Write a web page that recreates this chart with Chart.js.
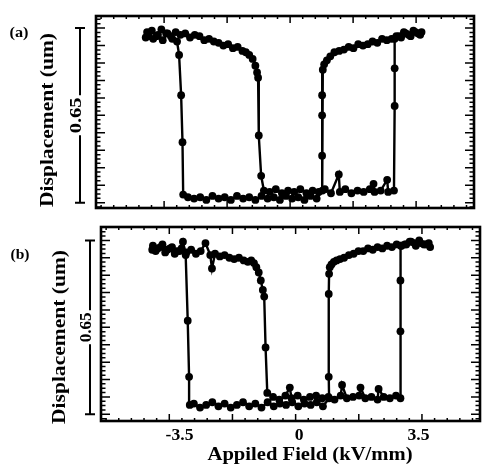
<!DOCTYPE html>
<html lang="en">
<head>
<meta charset="UTF-8" />
<title>Displacement vs Applied Field</title>
<script src="https://cdn.jsdelivr.net/npm/chart.js"></script>
<style>
  body { margin: 0; background: #fff; }
  #wrap { position: relative; width: 484px; height: 469px; }
  canvas { position: absolute; left: 0; top: 0; }
</style>
</head>
<body>
<div id="wrap">
  <canvas id="chartA" width="484" height="469"></canvas>
  <canvas id="chartB" width="484" height="469"></canvas>
</div>
<script>
// ---- data (field in kV/mm, displacement in um) ----
const fieldADown = [3.72, 3.58, 3.44, 3.3, 3.16, 3.02, 2.88, 2.74, 2.6, 2.46, 2.32, 2.18, 2.04, 1.9, 1.76, 1.62, 1.48, 1.34, 1.2, 1.08, 0.98, 0.9, 0.86, 0.84, 0.84, 0.84, 0.85,
  0.68, 0.5, 0.32, 0.14, -0.04, -0.22, -0.4, -0.58, -0.76, -0.94, -1.12, -1.3, -1.48, -1.66, -1.84, -2.02, -2.2, -2.38, -2.56, -2.74, -2.92, -3.1, -3.24,
  -3.26, -3.3, -3.36, -3.42, -3.56, -3.7, -3.84, -3.98, -4.12, -4.26, -4.34];
const dispADown = [1.25, 1.27, 1.24, 1.26, 1.23, 1.24, 1.22, 1.21, 1.22, 1.19, 1.2, 1.18, 1.17, 1.18, 1.15, 1.16, 1.14, 1.13, 1.12, 1.09, 1.06, 1.03, 0.99, 0.8, 0.65, 0.35, 0.09,
  0.03, 0.05, 0.02, 0.04, 0.03, 0.05, 0.02, 0.04, 0.03, 0.05, 0.02, 0.04, 0.03, 0.05, 0.02, 0.04, 0.03, 0.05, 0.02, 0.04, 0.03, 0.04, 0.06,
  0.45, 0.8, 1.1, 1.2, 1.22, 1.26, 1.21, 1.25, 1.22, 1.24, 1.23];
const fieldAUp = [-4.3, -4.16, -4.02, -3.88, -3.74, -3.6, -3.46, -3.32, -3.18, -3.04, -2.9, -2.76, -2.62, -2.48, -2.34, -2.2, -2.06, -1.92, -1.78, -1.64, -1.5, -1.4, -1.3, -1.2, -1.12, -1.07, -1.04, -1.02, -0.95, -0.87,
  -0.7, -0.52, -0.34, -0.16, 0.02, 0.2, 0.38, 0.56, 0.74, 0.92, 1.1, 1.33, 1.36, 1.52, 1.7, 1.88, 2.06, 2.24, 2.35, 2.38, 2.56, 2.75, 2.78, 2.95,
  2.97, 2.97, 2.97, 3.1, 3.24, 3.38, 3.52, 3.66, 3.76];
const dispAUp = [1.27, 1.28, 1.24, 1.29, 1.26, 1.24, 1.27, 1.25, 1.26, 1.23, 1.25, 1.24, 1.21, 1.22, 1.2, 1.19, 1.17, 1.18, 1.15, 1.16, 1.13, 1.12, 1.1, 1.07, 1.02, 0.97, 0.93, 0.5, 0.2, 0.09,
  0.08, 0.1, 0.07, 0.09, 0.08, 0.1, 0.07, 0.09, 0.08, 0.1, 0.07, 0.21, 0.08, 0.1, 0.07, 0.09, 0.08, 0.1, 0.14, 0.08, 0.09, 0.17, 0.08, 0.09,
  0.72, 1.0, 1.22, 1.24, 1.27, 1.25, 1.28, 1.26, 1.27];

const fieldBDown = [3.84, 3.7, 3.56, 3.42, 3.28, 3.14, 3.0, 2.86, 2.72, 2.58, 2.44, 2.3, 2.16, 2.02, 1.88, 1.74, 1.6, 1.46, 1.32, 1.2, 1.1, 1.02, 0.95, 0.9, 0.88, 0.87, 0.87, 0.88,
  0.7, 0.52, 0.34, 0.16, -0.02, -0.2, -0.38, -0.56, -0.74, -0.92, -1.1, -1.28, -1.46, -1.64, -1.82, -2.0, -2.18, -2.36, -2.54, -2.72, -2.9, -3.08, -3.2,
  -3.22, -3.26, -3.32, -3.4, -3.5, -3.64, -3.78, -3.92, -4.06, -4.2, -4.3];
const dispBDown = [1.25, 1.27, 1.28, 1.26, 1.29, 1.27, 1.26, 1.27, 1.25, 1.26, 1.24, 1.25, 1.23, 1.24, 1.22, 1.22, 1.2, 1.19, 1.17, 1.16, 1.15, 1.14, 1.12, 1.1, 1.05, 0.9, 0.28, 0.12,
  0.06, 0.09, 0.07, 0.08, 0.06, 0.09, 0.07, 0.08, 0.06, 0.09, 0.05, 0.08, 0.06, 0.09, 0.07, 0.05, 0.08, 0.06, 0.09, 0.07, 0.05, 0.08, 0.07,
  0.28, 0.7, 1.19, 1.29, 1.22, 1.2, 1.24, 1.21, 1.25, 1.22, 1.23];
const fieldBUp = [-4.28, -4.14, -4.0, -3.86, -3.72, -3.58, -3.44, -3.3, -3.16, -3.02, -2.88, -2.74, -2.6, -2.55, -2.46, -2.32, -2.18, -2.04, -1.9, -1.76, -1.62, -1.5, -1.4, -1.32, -1.25, -1.18, -1.12, -1.06, -1.02, -0.98, -0.93,
  -0.76, -0.58, -0.4, -0.27, -0.22, -0.04, 0.14, 0.32, 0.5, 0.68, 0.86, 1.04, 1.22, 1.26, 1.4, 1.58, 1.76, 1.8, 1.94, 2.12, 2.3, 2.33, 2.48, 2.66, 2.84, 2.97,
  2.97, 2.97, 2.98, 3.1, 3.24, 3.38, 3.52, 3.66, 3.8];
const dispBUp = [1.26, 1.24, 1.27, 1.23, 1.25, 1.22, 1.24, 1.21, 1.23, 1.2, 1.22, 1.28, 1.19, 1.09, 1.2, 1.18, 1.19, 1.17, 1.16, 1.17, 1.15, 1.14, 1.15, 1.13, 1.1, 1.06, 1.0, 0.93, 0.88, 0.5, 0.16,
  0.13, 0.11, 0.14, 0.2, 0.12, 0.14, 0.11, 0.13, 0.14, 0.12, 0.13, 0.11, 0.14, 0.22, 0.12, 0.13, 0.14, 0.2, 0.12, 0.13, 0.11, 0.19, 0.13, 0.12, 0.14, 0.12,
  0.62, 1.0, 1.26, 1.27, 1.29, 1.28, 1.3, 1.27, 1.28];

// axis ticks / labels
const xTickLabels = [-3.5, 0, 3.5];
const xMajorTicks = [-3.8, -1.95, -0.1, 1.75, 3.6];
const xMinorStep = 0.37;
const yMinorStep = 0.0325;
const yMajorStep = 0.13;
const scaleBar = [0, 0.65, 1.3];
const yTitle = 'Displacement (um)';
const xTitle = 'Appiled Field (kV/mm)';

const SERIF = '"Liberation Serif"';

function drawText(ctx, s, x, y, size, rot, width) {
  ctx.save();
  ctx.translate(x, y);
  ctx.rotate(rot || 0);
  ctx.font = 'bold ' + size + 'px ' + SERIF;
  const w = ctx.measureText(s).width;
  ctx.scale(width ? width / w : 1, 1);
  ctx.textAlign = 'center';
  ctx.textBaseline = 'middle';
  ctx.fillStyle = '#000';
  ctx.fillText(s, 0, 0);
  ctx.restore();
}

// frame with inward ticks, the scale bar and the text, drawn from the chart's own scales
const panelDecor = {
  id: 'panelDecor',
  afterDraw(chart, args, o) {
    const ctx = chart.ctx, a = chart.chartArea;
    const xs = chart.scales.x, ys = chart.scales.y;
    ctx.save();
    ctx.strokeStyle = '#000';
    ctx.lineWidth = 1.5;
    ctx.beginPath();
    // x ticks, top and bottom
    let v0 = xMajorTicks[0];
    while (v0 - xMinorStep > xs.min) v0 -= xMinorStep;
    for (let v = v0; v < xs.max; v += xMinorStep) {
      const px = xs.getPixelForValue(v);
      ctx.moveTo(px, a.top); ctx.lineTo(px, a.top + 3);
      ctx.moveTo(px, a.bottom); ctx.lineTo(px, a.bottom - 3);
    }
    xMajorTicks.forEach(v => {
      const px = xs.getPixelForValue(v);
      ctx.moveTo(px, a.top); ctx.lineTo(px, a.top + 7);
      ctx.moveTo(px, a.bottom); ctx.lineTo(px, a.bottom - 7);
    });
    // y ticks, left and right
    const n0 = Math.ceil(ys.min / yMinorStep), n1 = Math.floor(ys.max / yMinorStep);
    for (let n = n0; n <= n1; n++) {
      const py = ys.getPixelForValue(n * yMinorStep);
      const major = Math.abs(n * yMinorStep / yMajorStep - Math.round(n * yMinorStep / yMajorStep)) < 1e-6;
      const len = major ? 9 : 4.5;
      ctx.moveTo(a.left, py); ctx.lineTo(a.left + len, py);
      ctx.moveTo(a.right, py); ctx.lineTo(a.right - len, py);
    }
    ctx.stroke();

    // frame
    ctx.lineWidth = 2.6;
    ctx.strokeRect(a.left, a.top, a.right - a.left, a.bottom - a.top);

    // scale bar 0 .. 1.3 with 0.65 in the middle
    const yb0 = ys.getPixelForValue(scaleBar[0]);
    const ybm = ys.getPixelForValue(scaleBar[1]);
    const yb1 = ys.getPixelForValue(scaleBar[2]);
    const gap = o.labelLen + 4;
    ctx.lineWidth = 2;
    ctx.beginPath();
    ctx.moveTo(o.barX, yb1); ctx.lineTo(o.barX, ybm - gap / 2);
    ctx.moveTo(o.barX, ybm + gap / 2); ctx.lineTo(o.barX, yb0);
    ctx.moveTo(o.barX - 5, yb1); ctx.lineTo(o.barX + 5, yb1);
    ctx.moveTo(o.barX - 5, yb0); ctx.lineTo(o.barX + 5, yb0);
    ctx.stroke();
    drawText(ctx, String(scaleBar[1]), o.barX - 3, ybm, 16, -Math.PI / 2, o.labelLen);

    drawText(ctx, yTitle, o.titleX, o.titleY, 18, -Math.PI / 2, 174);
    drawText(ctx, o.label, o.labelX, o.labelY, 15, 0, 19);

    if (o.showX) {
      xTickLabels.forEach(v => {
        const s = String(v);
        ctx.font = 'bold 16px ' + SERIF;
        drawText(ctx, s, xs.getPixelForValue(v), o.tickY, 16, 0, ctx.measureText(s).width * 1.1);
      });
      drawText(ctx, xTitle, o.xTitleX, o.xTitleY, 19, 0, 205);
    }
    ctx.restore();
  }
};

function pts(xs, ys) {
  return xs.map((x, i) => ({ x: x, y: ys[i] }));
}

function makePanel(id, down, up, yMin, yMax, pad, decor) {
  const ds = d => ({
    data: d,
    showLine: true,
    borderColor: '#000',
    borderWidth: 2.4,
    backgroundColor: '#000',
    pointRadius: 3.9,
    pointBorderWidth: 0,
    tension: 0
  });
  return new Chart(document.getElementById(id), {
    type: 'scatter',
    data: { datasets: [ds(down), ds(up)] },
    options: {
      responsive: false,
      animation: false,
      devicePixelRatio: 1,
      layout: { padding: pad },
      plugins: { legend: { display: false }, tooltip: { enabled: false }, panelDecor: decor },
      scales: {
        x: { type: 'linear', min: -5.8, max: 5.3, display: false },
        y: { type: 'linear', min: yMin, max: yMax, display: false }
      }
    },
    plugins: [panelDecor]
  });
}

function init() {
  makePanel('chartA', pts(fieldADown, dispADown), pts(fieldAUp, dispAUp), -0.04, 1.39,
    { left: 96, top: 16, right: 10, bottom: 261 },
    { barX: 80, labelLen: 36, titleX: 48, titleY: 120, label: '(a)', labelX: 19, labelY: 33, showX: false });

  makePanel('chartB', pts(fieldBDown, dispBDown), pts(fieldBUp, dispBUp), -0.05, 1.40,
    { left: 101, top: 227, right: 4, bottom: 48 },
    { barX: 90, labelLen: 30, titleX: 60, titleY: 337, label: '(b)', labelX: 20, labelY: 255,
      showX: true, tickY: 436, xTitleX: 310, xTitleY: 455 });
}

document.fonts.load('bold 16px "Liberation Serif"').then(init, init);
</script>
</body>
</html>
